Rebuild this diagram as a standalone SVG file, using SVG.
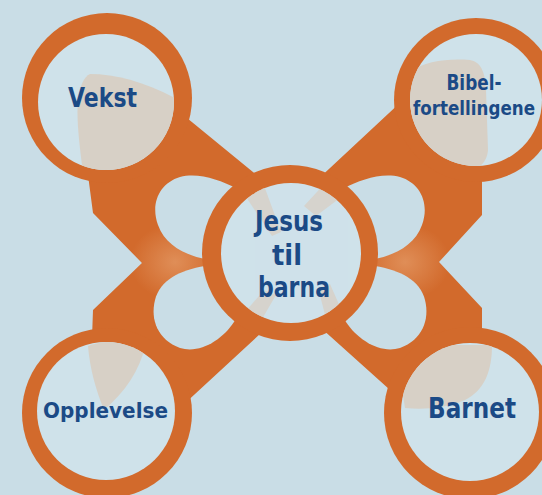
<svg xmlns="http://www.w3.org/2000/svg" width="542" height="495" viewBox="0 0 542 495">
<style>
.ring{fill:#d26a2c}
.inner{fill:#cfe2ea}
.blob{fill:#d7d0c6}
.hole{fill:#c9dde6}
.lbl{font-family:"DejaVu Sans","Liberation Sans",sans-serif;font-weight:bold;fill:#1b4a86;text-anchor:middle}
</style>
<defs>
<path id="body" d="M165,100 L265,182 L290,200 L315,182 L418,86 L476,140 L482,176 L482,215 L439,262 L482,308 L482,340 L470,400 L409,407 L311,319 L290,305 L273,322 L169,418 L107,400 L92,338 L93,310 L142,263 L93,213 L88,175 L107,140 Z"/>
<clipPath id="bodyClip"><use href="#body"/></clipPath>
<radialGradient id="hl" cx="0.5" cy="0.5" r="0.5">
<stop offset="0" stop-color="#e49a66" stop-opacity="0.75"/>
<stop offset="1" stop-color="#e49a66" stop-opacity="0"/>
</radialGradient>
<clipPath id="cV"><circle cx="106" cy="102" r="68"/></clipPath>
<clipPath id="cB"><circle cx="476" cy="100" r="66"/></clipPath>
<clipPath id="cO"><circle cx="106" cy="411" r="69"/></clipPath>
<clipPath id="cN"><circle cx="470" cy="412" r="69"/></clipPath>
<clipPath id="cC"><circle cx="291" cy="253" r="70"/></clipPath>
</defs>
<rect width="542" height="495" fill="#c9dde6"/>
<g id="connectors">
<use href="#body" class="ring"/>
<g clip-path="url(#bodyClip)">
<ellipse cx="175" cy="262" rx="45" ry="38" fill="url(#hl)"/>
<ellipse cx="405" cy="262" rx="45" ry="38" fill="url(#hl)"/>
</g>
<path class="hole" d="M205,259 C185,255 165,245 158,225 C150,203 160,183 180,177 C198,172 220,180 236,188 L262,222 L225,256 Z"/>
<path class="hole" d="M205,266 C180,270 160,280 155,300 C150,320 158,340 180,348 C200,354 222,340 234,322 L252,292 L225,268 Z"/>
<path class="hole" d="M375,259 C395,255 415,245 422,225 C430,203 420,183 400,177 C382,172 360,180 344,188 L318,222 L355,256 Z"/>
<path class="hole" d="M375,266 C400,270 420,280 425,300 C430,320 422,340 400,348 C380,354 358,340 346,322 L328,292 L355,268 Z"/>
</g>
<g id="node-center">
<circle class="ring" cx="290" cy="253" r="88"/>
<circle class="inner" cx="291" cy="253" r="70"/>
<g clip-path="url(#cC)" class="blob" opacity="0.8">
<polygon points="240,188 262,180 281,232 272,236"/>
<polygon points="328,180 348,192 316,216 304,206"/>
<polygon points="240,318 258,326 276,295 264,290"/>
<polygon points="318,288 330,284 345,318 328,326"/>
</g>
<text class="lbl" x="289" y="231" font-size="29" textLength="68" lengthAdjust="spacingAndGlyphs">Jesus</text>
<text class="lbl" x="287" y="265" font-size="29" textLength="30" lengthAdjust="spacingAndGlyphs">til</text>
<text class="lbl" x="294" y="297" font-size="29" textLength="72" lengthAdjust="spacingAndGlyphs">barna</text>
</g>
<g id="node-vekst">
<circle class="ring" cx="107" cy="98" r="85"/>
<circle class="inner" cx="106" cy="102" r="68"/>
<path class="blob" clip-path="url(#cV)" d="M90,74 C115,74 145,82 175,98 L180,180 L84,180 C80,150 76,120 78,100 C80,85 84,77 90,74 Z"/>
<text class="lbl" x="102.5" y="107" font-size="26" textLength="69" lengthAdjust="spacingAndGlyphs">Vekst</text>
</g>
<g id="node-bibel">
<circle class="ring" cx="476" cy="100" r="82"/>
<circle class="inner" cx="476" cy="100" r="66"/>
<path class="blob" clip-path="url(#cB)" d="M405,75 C420,62 445,58 470,60 C480,62 485,70 486,90 L488,150 C487,162 480,168 470,170 L400,170 Z"/>
<text class="lbl" x="474" y="90" font-size="21" textLength="55" lengthAdjust="spacingAndGlyphs">Bibel-</text>
<text class="lbl" x="474" y="115" font-size="19" textLength="122" lengthAdjust="spacingAndGlyphs">fortellingene</text>
</g>
<g id="node-opplevelse">
<circle class="ring" cx="107" cy="413" r="85"/>
<circle class="inner" cx="106" cy="411" r="69"/>
<path class="blob" clip-path="url(#cO)" d="M88,346 C105,340 125,340 145,346 C140,370 125,392 104,410 C96,390 90,370 88,346 Z"/>
<text class="lbl" x="105.5" y="418" font-size="22" textLength="125" lengthAdjust="spacingAndGlyphs">Opplevelse</text>
</g>
<g id="node-barnet">
<circle class="ring" cx="470" cy="413" r="86"/>
<circle class="inner" cx="470" cy="412" r="69"/>
<path class="blob" clip-path="url(#cN)" d="M410,345 L492,345 C492,370 485,390 465,400 C445,408 425,410 405,408 L395,345 Z"/>
<text class="lbl" x="472" y="418" font-size="28" textLength="88" lengthAdjust="spacingAndGlyphs">Barnet</text>
</g>
</svg>
